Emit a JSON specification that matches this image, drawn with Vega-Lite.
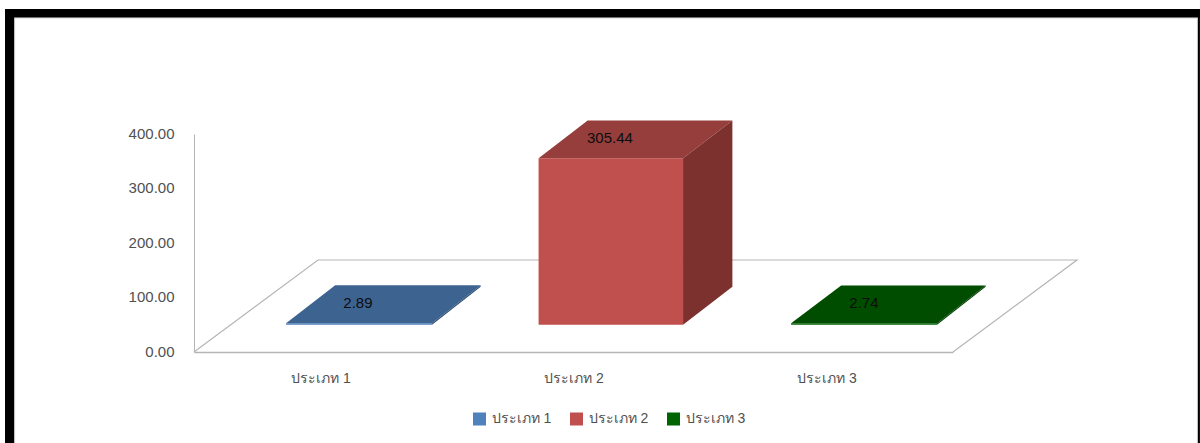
{
"$schema":"https://vega.github.io/schema/vega-lite/v6.json",
"width":759,"height":218,
"autosize":{"type":"none"},
"padding":{"left":194,"top":134,"right":247,"bottom":91},
"background":"white",
"config":{"view":{"stroke":null},"font":"Liberation Sans"},
"datasets":{
"floor":[{"seq":1,"x":0,"y":0},{"seq":2,"x":0.49,"y":168.8},{"seq":3,"x":3.49,"y":168.8},{"seq":4,"x":3,"y":0}],
"frame":[{"x":-0.747,"x2":3.976,"y":629.4,"y2":613.8},{"x":-0.747,"x2":-0.711,"y":629.4,"y2":-167},{"x":3.968,"x2":3.976,"y":629.4,"y2":-167}],
"edge":[{"x":-0.711,"x2":3.968,"y":613.8,"y2":612},{"x":-0.711,"x2":-0.707,"y":613.8,"y2":-167},{"x":3.964,"x2":3.968,"y":613.8,"y2":-167}],
"bars":[{"series":"ประเภท 1","value":2.89,"x":0.648,"y":90},{"series":"ประเภท 2","value":305.44,"x":1.644,"y":393},{"series":"ประเภท 3","value":2.74,"x":2.648,"y":90}],
"faces":[
{"series":"ประเภท 1","face":"top","x":0.364,"y":52.89,"y2":52.89},
{"series":"ประเภท 1","face":"top","x":0.558,"y":52.89,"y2":122.39},
{"series":"ประเภท 1","face":"top","x":0.941,"y":52.89,"y2":122.39},
{"series":"ประเภท 1","face":"top","x":1.133,"y":122.39,"y2":122.39},
{"series":"ประเภท 1","face":"side","x":0.941,"y":50,"y2":52.89},
{"series":"ประเภท 1","face":"side","x":1.133,"y":119.5,"y2":122.39},
{"series":"ประเภท 1","face":"front","x":0.364,"y":50,"y2":52.89},
{"series":"ประเภท 1","face":"front","x":0.941,"y":50,"y2":52.89},
{"series":"ประเภท 2","face":"top","x":1.362,"y":355.44,"y2":355.44},
{"series":"ประเภท 2","face":"top","x":1.556,"y":355.44,"y2":424.94},
{"series":"ประเภท 2","face":"top","x":1.933,"y":355.44,"y2":424.94},
{"series":"ประเภท 2","face":"top","x":2.128,"y":424.94,"y2":424.94},
{"series":"ประเภท 2","face":"side","x":1.933,"y":50,"y2":355.44},
{"series":"ประเภท 2","face":"side","x":2.128,"y":119.5,"y2":424.94},
{"series":"ประเภท 2","face":"front","x":1.362,"y":50,"y2":355.44},
{"series":"ประเภท 2","face":"front","x":1.933,"y":50,"y2":355.44},
{"series":"ประเภท 3","face":"top","x":2.36,"y":52.74,"y2":52.74},
{"series":"ประเภท 3","face":"top","x":2.558,"y":52.74,"y2":122.24},
{"series":"ประเภท 3","face":"top","x":2.937,"y":52.74,"y2":122.24},
{"series":"ประเภท 3","face":"top","x":3.129,"y":122.24,"y2":122.24},
{"series":"ประเภท 3","face":"side","x":2.937,"y":50,"y2":52.74},
{"series":"ประเภท 3","face":"side","x":3.129,"y":119.5,"y2":122.24},
{"series":"ประเภท 3","face":"front","x":2.36,"y":50,"y2":52.74},
{"series":"ประเภท 3","face":"front","x":2.937,"y":50,"y2":52.74}
]},
"encoding":{
  "x":{"field":"x","type":"quantitative","scale":{"domain":[0,3],"nice":false,"zero":false},"axis":{"title":null,"values":[0.5,1.5,2.5],"labelExpr":"'ประเภท ' + (datum.value + 0.5)","grid":false,"ticks":false,"domain":true,"domainColor":"#b5b5b5","domainWidth":1.5,"labelColor":"#505050","labelFontSize":14,"labelPadding":19}},
  "y":{"field":"y","type":"quantitative","stack":null,"scale":{"domain":[0,400],"nice":false},"axis":{"title":null,"values":[0,100,200,300,400],"format":".2f","grid":false,"ticks":false,"domain":true,"domainColor":"#b5b5b5","domainWidth":1,"labelColor":"#505050","labelFontSize":15,"labelPadding":20,"labelOffset":-1}}
},
"layer":[
{"data":{"name":"edge"},"mark":{"type":"rect","fill":"#d4d4d4"},"encoding":{"x2":{"field":"x2"},"y2":{"field":"y2"}}},
{"data":{"name":"frame"},"mark":{"type":"rect","fill":"#000000"},"encoding":{"x2":{"field":"x2"},"y2":{"field":"y2"}}},
{"data":{"name":"floor"},"mark":{"type":"line","stroke":"#b5b5b5","strokeWidth":1.2},"encoding":{"order":{"field":"seq","type":"quantitative"}}},
{"data":{"name":"faces"},"transform":[{"filter":"datum.face === 'front'"}],"mark":{"type":"area","interpolate":"linear"},
 "encoding":{"y2":{"field":"y2"},
  "color":{"field":"series","type":"nominal","scale":{"domain":["ประเภท 1","ประเภท 2","ประเภท 3"],"range":["#4f81bd","#c0504d","#006400"]},
   "legend":{"title":null,"orient":"none","legendX":278.5,"legendY":278,"direction":"horizontal","columns":3,"symbolType":"square","symbolSize":169,"symbolStrokeWidth":0,"labelFontSize":14,"labelColor":"#505050","labelOffset":5,"columnPadding":18}}}},
{"data":{"name":"faces"},"transform":[{"filter":"datum.face === 'top'"}],"mark":{"type":"area","interpolate":"linear"},
 "encoding":{"y2":{"field":"y2"},
  "color":{"field":"series","type":"nominal","scale":{"domain":["ประเภท 1","ประเภท 2","ประเภท 3"],"range":["#3d6391","#953e3b","#004d00"]},"legend":null}}},
{"data":{"name":"faces"},"transform":[{"filter":"datum.face === 'side'"}],"mark":{"type":"area","interpolate":"linear"},
 "encoding":{"y2":{"field":"y2"},
  "color":{"field":"series","type":"nominal","scale":{"domain":["ประเภท 1","ประเภท 2","ประเภท 3"],"range":["#2f4d71","#7d312f","#003c00"]},"legend":null}}},
{"data":{"name":"bars"},"mark":{"type":"text","fontSize":15,"color":"#0d0d0d"},
 "encoding":{"text":{"field":"value","type":"quantitative","format":".2f"}}}
],
"resolve":{"scale":{"color":"independent"}}
}
